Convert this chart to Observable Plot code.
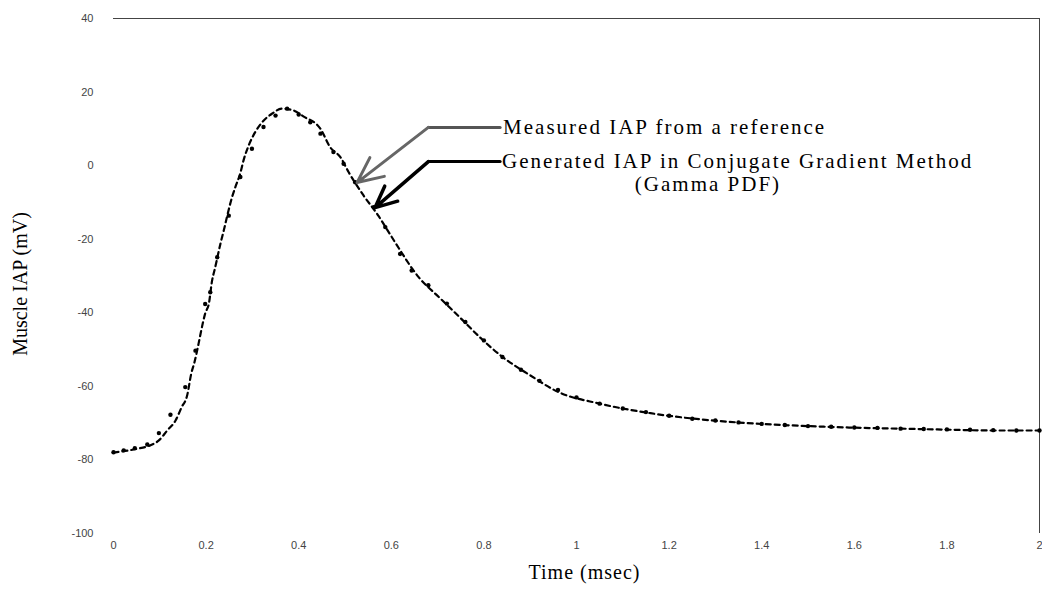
<!DOCTYPE html>
<html>
<head>
<meta charset="utf-8">
<script src="https://cdn.jsdelivr.net/npm/d3@7"></script>
<script src="https://cdn.jsdelivr.net/npm/@observablehq/plot@0.6"></script>
<style>
  html, body { margin: 0; padding: 0; background: #fff; }
  #chart svg { display: block; }
  .annot text { letter-spacing: 2px; }
  .xtitle text { letter-spacing: 1px; }
</style>
</head>
<body>
<div id="chart"></div>
<script>
// Time axis (msec) and IAP (mV) values
const genTime = [0, 0.05, 0.08, 0.098, 0.116, 0.134, 0.147, 0.159, 0.168, 0.175, 0.186, 0.191, 0.198, 0.206, 0.213, 0.219, 0.231, 0.237, 0.256, 0.263, 0.274, 0.281, 0.292, 0.306, 0.321, 0.342, 0.364, 0.389, 0.41, 0.447, 0.468, 0.49, 0.508, 0.54, 0.572, 0.594, 0.608, 0.659, 0.705, 0.75, 0.79, 0.835, 0.9, 0.96, 1.05, 1.16, 1.27, 1.37, 1.48, 1.59, 1.7, 1.81, 1.9, 2.0];
const genIAP  = [-78, -77, -76, -74.7, -72, -69.3, -65.7, -62.5, -56.5, -53.4, -47, -43.9, -40.2, -37.5, -31.2, -28, -21.2, -18.2, -8.6, -5.9, -2, 1.5, 5.5, 9.1, 11.8, 14.1, 15.5, 15, 13.4, 10, 5, 2.3, -1.8, -8.1, -13.6, -18, -20.8, -30.3, -36, -41.5, -46.5, -51.5, -57, -61.5, -64.7, -67.3, -69, -70, -70.7, -71.2, -71.5, -71.8, -72, -72];

const measTime = [0, 0.022, 0.046, 0.073, 0.098, 0.123, 0.155, 0.177, 0.198, 0.209, 0.224, 0.249, 0.274, 0.299, 0.324, 0.35, 0.375, 0.4, 0.425, 0.447, 0.475, 0.497, 0.522, 0.562, 0.587, 0.619, 0.644, 0.68, 0.72, 0.76, 0.8, 0.84, 0.88, 0.92, 0.96, 1.0, 1.05, 1.1, 1.15, 1.2, 1.25, 1.3, 1.35, 1.4, 1.45, 1.5, 1.55, 1.6, 1.65, 1.7, 1.75, 1.8, 1.85, 1.9, 1.95, 2.0];
const measIAP  = [-77.9, -77.4, -76.8, -75.8, -72.7, -67.7, -60.2, -50.3, -37.6, -34.4, -24.9, -13.6, -3.1, 4.6, 10.5, 13.6, 15.5, 13.9, 11.8, 8.7, 3.7, 0.5, -4.5, -11.3, -16.7, -24, -28.5, -32.5, -37.5, -42.5, -47.5, -52, -55.5, -58.5, -61, -63, -64.7, -66, -67, -68, -68.8, -69.3, -69.8, -70.2, -70.5, -70.8, -71, -71.2, -71.3, -71.5, -71.6, -71.7, -71.8, -71.9, -72, -72];

const xTicks = [0, 0.2, 0.4, 0.6, 0.8, 1, 1.2, 1.4, 1.6, 1.8, 2];
const yTicks = [40, 20, 0, -20, -40, -60, -80, -100];

const labels = ["Measured IAP from a reference", "Generated IAP in Conjugate Gradient Method", "(Gamma PDF)"];
const xTitle = "Time (msec)";
const yTitle = "Muscle IAP (mV)";

// Build tables
const generated = genTime.map((t, i) => ({t, v: genIAP[i]}));
const measured = measTime.map((t, i) => ({t, v: measIAP[i]}));

// Annotation geometry (data units)
const measArrow = {sx: 0.835, sy: 10.4, ex: 0.68, tx: 0.526, ty: -4.6};
const genArrow  = {sx: 0.835, sy: 1.1,  ex: 0.68, tx: 0.565, ty: -11.4};

const serif = "Liberation Serif, Times New Roman, serif";
const sans = "Liberation Sans, Arial, sans-serif";

const chart = Plot.plot({
  width: 1042,
  height: 595,
  marginLeft: 113,
  marginRight: 3,
  marginTop: 18,
  marginBottom: 62,
  style: {fontFamily: serif, background: "#fff", color: "#000"},
  x: {domain: [0, 2]},
  y: {domain: [-100, 40]},
  marks: [
    Plot.axisX({ticks: xTicks, tickSize: 0, tickPadding: 8, label: null, fontSize: 11, fontFamily: sans, fill: "#444", tickFormat: d => String(d)}),
    Plot.axisY({ticks: yTicks, tickSize: 0, tickPadding: 20, label: null, fontSize: 11, fontFamily: sans, fill: "#444", tickFormat: d => String(d)}),
    Plot.ruleY([40], {stroke: "#444", strokeWidth: 1}),
    Plot.ruleX([2], {stroke: "#444", strokeWidth: 1}),
    Plot.line(generated, {x: "t", y: "v", stroke: "#000", strokeWidth: 2.2, strokeDasharray: "5,4", curve: "monotone-x"}),
    Plot.dot(measured, {x: "t", y: "v", r: 2.2, fill: "#000", stroke: "none"}),
    // annotation arrows
    Plot.line([[measArrow.sx, measArrow.sy], [measArrow.ex, measArrow.sy]], {stroke: "#555", strokeWidth: 3}),
    Plot.arrow([measArrow], {x1: "ex", y1: "sy", x2: "tx", y2: "ty", stroke: "#666", strokeWidth: 3, headLength: 14, headAngle: 50}),
    Plot.line([[genArrow.sx, genArrow.sy], [genArrow.ex, genArrow.sy]], {stroke: "#000", strokeWidth: 3}),
    Plot.arrow([genArrow], {x1: "ex", y1: "sy", x2: "tx", y2: "ty", stroke: "#000", strokeWidth: 3.5, headLength: 16, headAngle: 50}),
    Plot.text([labels[0]], {x: measArrow.sx, y: measArrow.sy, dx: 3, text: d => d, textAnchor: "start", fontSize: 21, fill: "#000", className: "annot"}),
    Plot.text([labels[1]], {x: genArrow.sx, y: genArrow.sy, dx: 2, text: d => d, textAnchor: "start", fontSize: 21, fill: "#000", className: "annot"}),
    Plot.text([labels[2]], {x: 1.284, y: -5.1, text: d => d, textAnchor: "middle", fontSize: 21, fill: "#000", className: "annot"}),
    // axis titles
    Plot.text([xTitle], {frameAnchor: "bottom", textAnchor: "middle", dy: 45, dx: 8, text: d => d, fontSize: 20, fill: "#000", className: "xtitle"}),
    Plot.text([yTitle], {frameAnchor: "left", textAnchor: "middle", dx: -93, dy: 8, rotate: -90, text: d => d, fontSize: 20, fill: "#000"})
  ]
});

document.getElementById("chart").appendChild(chart);
</script>
</body>
</html>
